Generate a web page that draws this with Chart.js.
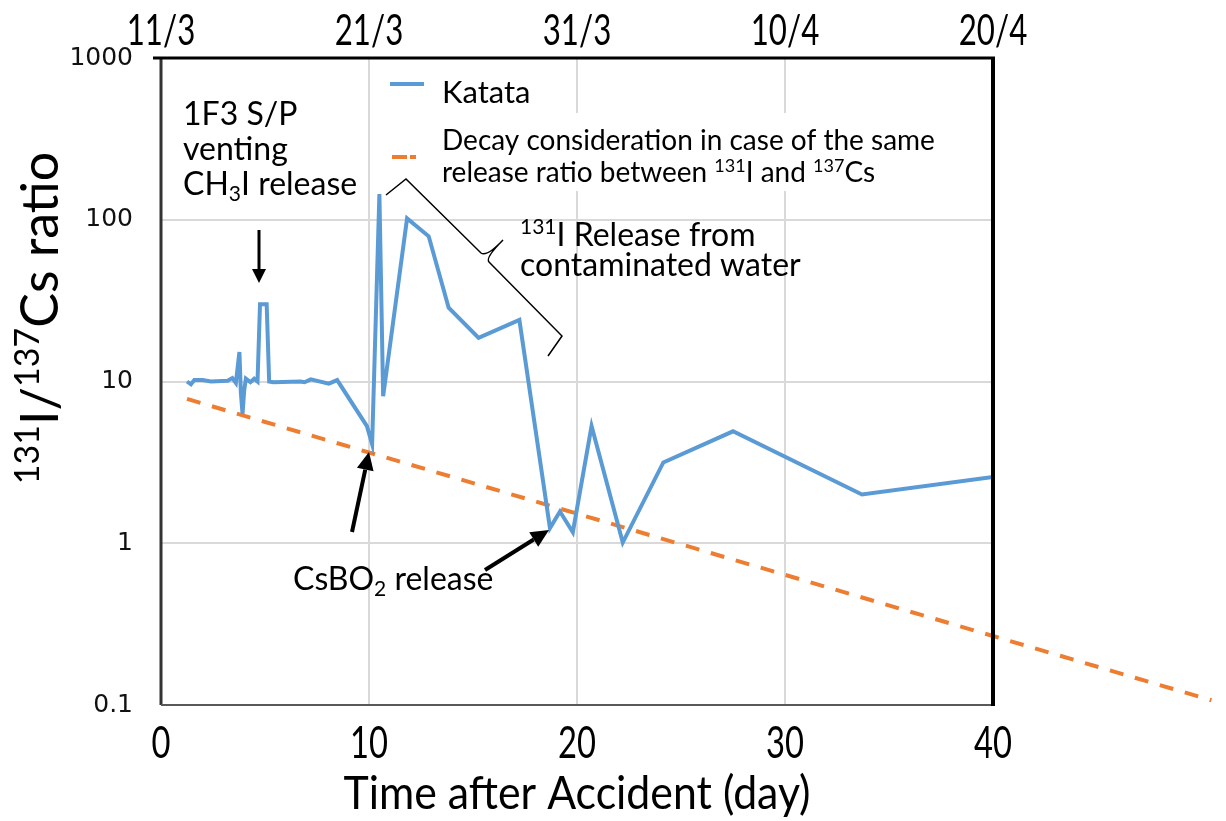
<!DOCTYPE html>
<html>
<head>
<meta charset="utf-8">
<script src="https://cdn.jsdelivr.net/npm/chart.js@4.4.1/dist/chart.umd.min.js"></script>
<style>
  html, body { margin: 0; padding: 0; background: #fff; }
</style>
</head>
<body>
<canvas id="chart" width="1226" height="821"></canvas>
<script>
// values
const katataDays = [1.25, 1.44, 1.6, 2.0, 2.4, 3.2, 3.43, 3.6, 3.77, 3.84, 3.92, 4.0, 4.08, 4.3, 4.48, 4.64,
  4.76, 5.08, 5.2, 5.4, 6.7, 6.9, 7.2, 8.07, 8.47, 9.9, 10.15, 10.5, 10.68, 11.83, 12.87, 13.83,
  15.27, 17.23, 18.7, 19.18, 19.8, 20.7, 22.2, 24.15, 27.5, 33.7, 40];
const katataRatio = [10.0, 9.6, 10.2, 10.2, 10.0, 10.1, 10.5, 9.8, 15.2, 8.5, 6.3, 8.8, 10.4, 9.9, 10.4, 10.0,
  30, 30, 10.0, 9.9, 10.0, 9.9, 10.3, 9.7, 10.2, 5.3, 4.1, 144, 8.1, 102, 79, 28.6,
  18.6, 24, 1.24, 1.57, 1.17, 5.3, 1.01, 3.16, 4.92, 2.0, 2.57];
const decayDays = [1.25, 50.5];
const decayRatio = [7.8, 0.107];

const xTicks = [0, 10, 20, 30, 40];
const xTickLabels = ['0', '10', '20', '30', '40'];
const dateLabels = ['11/3', '21/3', '31/3', '10/4', '20/4'];
const yTicks = [0.1, 1, 10, 100, 1000];
const yTickLabels = ['0.1', '1', '10', '100', '1000'];

const BLUE = '#5b9bd5';
const ORANGE = '#ed7d31';
const TEXT_FONT = 'Lato, "Open Sans", sans-serif';

// draws text with ^{sup} and _{sub} parts
function drawRich(ctx, str, x, y, size, align) {
  const parts = [];
  str.replace(/\^\{([^}]*)\}|_\{([^}]*)\}|[^^_]+/g, (m, sup, sub) => {
    if (sup !== undefined) parts.push({ t: sup, k: 'sup' });
    else if (sub !== undefined) parts.push({ t: sub, k: 'sub' });
    else parts.push({ t: m, k: 'n' });
  });
  const fontOf = p => (p.k === 'n' ? size : Math.round(size * 0.65)) + 'px ' + TEXT_FONT;
  let w = 0;
  parts.forEach(p => { ctx.font = fontOf(p); p.w = ctx.measureText(p.t).width; w += p.w; });
  let cx = align === 'center' ? x - w / 2 : x;
  ctx.textAlign = 'left';
  ctx.textBaseline = 'alphabetic';
  parts.forEach(p => {
    ctx.font = fontOf(p);
    const dy = p.k === 'sup' ? -size * 0.36 : p.k === 'sub' ? size * 0.2 : 0;
    ctx.fillText(p.t, cx, y + dy);
    cx += p.w;
  });
}

// narrow axis text: horizontally squeezed, centred on x
function drawNarrow(ctx, text, x, y, size, sx) {
  ctx.save();
  ctx.font = size + 'px ' + TEXT_FONT;
  ctx.textAlign = 'center';
  ctx.textBaseline = 'alphabetic';
  ctx.translate(x, y);
  ctx.scale(sx, 1);
  ctx.fillText(text, 0, 0);
  ctx.restore();
}

function drawArrow(ctx, x1, y1, x2, y2, lw, headLen, headW) {
  const a = Math.atan2(y2 - y1, x2 - x1);
  const bx = x2 - headLen * Math.cos(a), by = y2 - headLen * Math.sin(a);
  ctx.lineWidth = lw;
  ctx.beginPath();
  ctx.moveTo(x1, y1);
  ctx.lineTo(bx, by);
  ctx.stroke();
  ctx.beginPath();
  ctx.moveTo(x2, y2);
  ctx.lineTo(bx + headW / 2 * Math.sin(a), by - headW / 2 * Math.cos(a));
  ctx.lineTo(bx - headW / 2 * Math.sin(a), by + headW / 2 * Math.cos(a));
  ctx.closePath();
  ctx.fill();
}

const overlay = {
  id: 'overlay',
  afterDraw(chart) {
    const ctx = chart.ctx;
    const a = chart.chartArea;
    const xs = chart.scales.x;
    ctx.save();

    // plot frame
    ctx.strokeStyle = '#333';
    ctx.lineWidth = 3;
    ctx.beginPath(); ctx.moveTo(a.left, a.top); ctx.lineTo(a.left, a.bottom); ctx.stroke();
    ctx.strokeStyle = '#595959';
    ctx.lineWidth = 2;
    ctx.beginPath(); ctx.moveTo(a.left, a.bottom); ctx.lineTo(a.right, a.bottom); ctx.stroke();
    ctx.strokeStyle = '#000';
    ctx.lineWidth = 3;
    ctx.beginPath(); ctx.moveTo(a.left - 8, a.top); ctx.lineTo(a.right + 2, a.top); ctx.stroke();
    ctx.lineWidth = 4;
    ctx.beginPath(); ctx.moveTo(a.right, a.top); ctx.lineTo(a.right, a.bottom + 1); ctx.stroke();

    // x tick labels (bottom: days, top: dates) and x title
    ctx.fillStyle = '#000';
    ctx.font = '44px ' + TEXT_FONT;
    const sx = 38 / ctx.measureText('10').width;
    xTicks.forEach((v, i) => {
      const px = xs.getPixelForValue(v);
      drawNarrow(ctx, xTickLabels[i], px, 758, 44, sx);
      drawNarrow(ctx, dateLabels[i], px, 45, 42, sx);
    });
    const title = 'Time after Accident (day)';
    ctx.font = '47px ' + TEXT_FONT;
    drawNarrow(ctx, title, (a.left + a.right) / 2, 809, 47, 467 / ctx.measureText(title).width);

    // legend
    ctx.fillStyle = '#fff';
    ctx.fillRect(430, 113, 515, 78);
    ctx.strokeStyle = BLUE;
    ctx.lineWidth = 4;
    ctx.beginPath(); ctx.moveTo(390, 84); ctx.lineTo(424, 84); ctx.stroke();
    ctx.strokeStyle = ORANGE;
    ctx.setLineDash([15, 3]);
    ctx.beginPath(); ctx.moveTo(392, 157); ctx.lineTo(416, 157); ctx.stroke();
    ctx.setLineDash([]);
    ctx.fillStyle = '#000';
    drawRich(ctx, 'Katata', 442, 103, 31, 'left');
    drawRich(ctx, 'Decay consideration in case of the same', 442, 150, 28, 'left');
    drawRich(ctx, 'release ratio between ^{131}I and ^{137}Cs', 442, 182, 28, 'left');

    // annotations
    drawRich(ctx, '1F3 S/P', 183, 125, 32, 'left');
    drawRich(ctx, 'venting', 183, 160, 32, 'left');
    drawRich(ctx, 'CH_{3}I release', 183, 195, 32, 'left');
    drawRich(ctx, '^{131}I Release from', 520, 246, 32, 'left');
    drawRich(ctx, 'contaminated water', 520, 276, 32, 'left');
    drawRich(ctx, 'CsBO_{2} release', 293, 590, 32, 'left');

    ctx.strokeStyle = '#000';
    ctx.fillStyle = '#000';
    drawArrow(ctx, 259, 230, 259, 283, 3, 14, 14);
    drawArrow(ctx, 352, 532, 369, 452, 4, 18, 17);
    drawArrow(ctx, 485, 570, 549, 530, 4, 18, 17);

    // brace over the contaminated water release
    ctx.lineWidth = 1.5;
    ctx.beginPath();
    ctx.moveTo(386, 195);
    ctx.lineTo(406, 179);
    ctx.lineTo(481, 253);
    ctx.quadraticCurveTo(487, 257, 503, 240);
    ctx.moveTo(503, 240);
    ctx.quadraticCurveTo(485, 258, 489, 262);
    ctx.lineTo(562, 336);
    ctx.lineTo(548, 356);
    ctx.stroke();

    // y axis title
    ctx.translate(58, 318);
    ctx.rotate(-Math.PI / 2);
    drawRich(ctx, '^{131}I/^{137}Cs ratio', 0, 0, 52, 'center');
    ctx.restore();
  }
};

const ctx = document.getElementById('chart').getContext('2d');
new Chart(ctx, {
  type: 'line',
  data: {
    datasets: [
      {
        label: 'Katata',
        data: katataDays.map((d, i) => ({ x: d, y: katataRatio[i] })),
        borderColor: BLUE,
        borderWidth: 4,
        pointRadius: 0,
        tension: 0,
        fill: false
      },
      {
        label: 'Decay consideration in case of the same release ratio between 131I and 137Cs',
        data: decayDays.map((d, i) => ({ x: d, y: decayRatio[i] })),
        borderColor: ORANGE,
        borderWidth: 4,
        borderDash: [14, 12],
        pointRadius: 0,
        clip: false,
        fill: false
      }
    ]
  },
  options: {
    responsive: false,
    animation: false,
    layout: { padding: { right: 233 } },
    scales: {
      x: {
        type: 'linear',
        position: 'bottom',
        min: 0,
        max: 40,
        afterFit: s => { s.height = 116; },
        afterBuildTicks: s => { s.ticks = xTicks.map(v => ({ value: v })); },
        grid: {
          drawTicks: false,
          lineWidth: 2,
          color: c => (c.tick && (c.tick.value === 0 || c.tick.value === 40)) ? 'rgba(0,0,0,0)' : '#d9d9d9'
        },
        border: { display: false },
        ticks: { display: false }
      },
      xTop: {
        type: 'linear',
        position: 'top',
        min: 0,
        max: 40,
        afterFit: s => { s.height = 58; },
        grid: { display: false, drawTicks: false },
        border: { display: false },
        ticks: { display: false }
      },
      y: {
        type: 'logarithmic',
        min: 0.1,
        max: 1000,
        afterFit: s => { s.width = 161; },
        afterBuildTicks: s => { s.ticks = yTicks.map(v => ({ value: v })); },
        grid: {
          drawTicks: false,
          lineWidth: 2,
          color: c => (c.tick && (c.tick.value === 0.1 || c.tick.value === 1000)) ? 'rgba(0,0,0,0)' : '#d9d9d9'
        },
        border: { display: false },
        ticks: {
          padding: 28,
          color: '#111',
          font: { family: 'DejaVu Sans', size: 25 },
          callback: v => yTickLabels[yTicks.indexOf(v)]
        }
      }
    },
    plugins: {
      legend: { display: false },
      tooltip: { enabled: false }
    }
  },
  plugins: [overlay]
});
</script>
</body>
</html>
